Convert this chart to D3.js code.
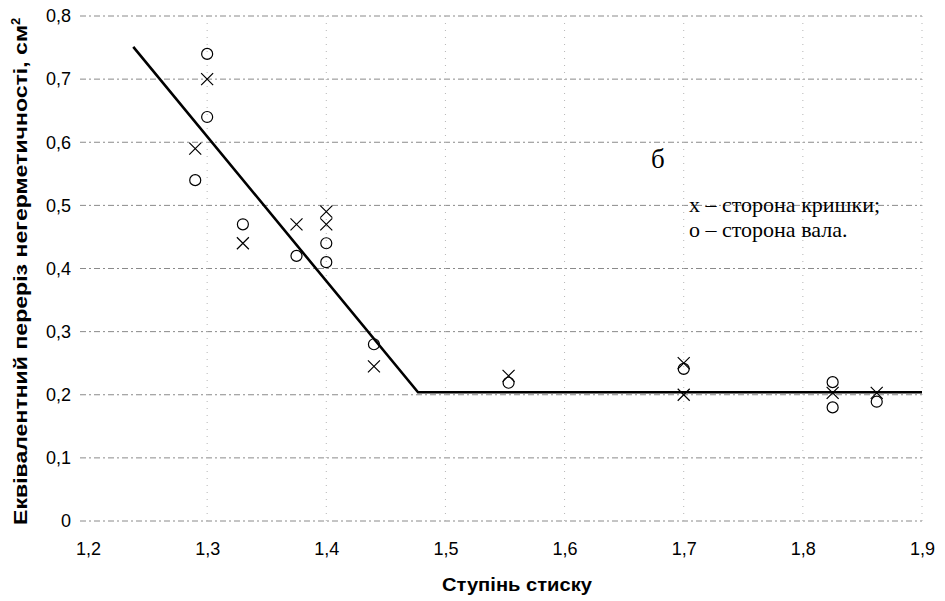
<!DOCTYPE html>
<html>
<head>
<meta charset="utf-8">
<script src="https://cdn.jsdelivr.net/npm/d3@7"></script>
<style>
  body { margin: 0; background: #fff; }
</style>
</head>
<body>
<div id="chart"></div>
<script>
(function(d3) {
  'use strict';

  // сторона кришки (x)
  var crossX = [1.29, 1.30, 1.33, 1.375, 1.40, 1.40, 1.44, 1.553, 1.70, 1.70, 1.825, 1.862];
  var crossY = [0.59, 0.70, 0.44, 0.47, 0.49, 0.47, 0.245, 0.23, 0.25, 0.20, 0.203, 0.203];
  // сторона вала (o)
  var circX = [1.30, 1.30, 1.29, 1.33, 1.375, 1.40, 1.40, 1.44, 1.553, 1.70, 1.825, 1.825, 1.862];
  var circY = [0.74, 0.64, 0.54, 0.47, 0.42, 0.44, 0.41, 0.28, 0.219, 0.241, 0.22, 0.18, 0.189];
  // approximation line
  var lineX = [1.238, 1.477, 1.9];
  var lineY = [0.751, 0.204, 0.204];

  var xTicks = [1.2, 1.3, 1.4, 1.5, 1.6, 1.7, 1.8, 1.9];
  var yTicks = [0, 0.1, 0.2, 0.3, 0.4, 0.5, 0.6, 0.7, 0.8];

  var width = 945;
  var height = 601;
  var sans = 'Arial, "Liberation Sans", sans-serif';

  var x = d3.scaleLinear().domain([1.2, 1.9]).range([88, 922]);
  var y = d3.scaleLinear().domain([0, 0.8]).range([521, 16]);
  var fmt = function(d) { return d3.format('.1~f')(d).replace('.', ','); };

  var svg = d3.select('#chart')
    .append('svg')
    .attr('width', width)
    .attr('height', height);

  // grid
  svg.append('g')
    .selectAll('line')
    .data(yTicks)
    .enter()
    .append('line')
    .attr('x1', 80).attr('x2', 922)
    .attr('y1', function(d) { return y(d); })
    .attr('y2', function(d) { return y(d); })
    .attr('stroke', '#8a8a8a')
    .attr('stroke-width', 1)
    .attr('stroke-dasharray', '6,3,2,3');

  svg.append('g')
    .selectAll('line')
    .data(xTicks.slice(1))
    .enter()
    .append('line')
    .attr('x1', function(d) { return x(d); })
    .attr('x2', function(d) { return x(d); })
    .attr('y1', y(0.8)).attr('y2', y(0))
    .attr('stroke', '#b5b5b5')
    .attr('stroke-width', 1)
    .attr('stroke-dasharray', '1,6');

  // axes (labels only)
  var xAxis = svg.append('g')
    .attr('transform', 'translate(0,' + 528 + ')')
    .call(d3.axisBottom(x).tickValues(xTicks).tickFormat(fmt).tickSize(0).tickPadding(14));
  xAxis.select('.domain').remove();

  var yAxis = svg.append('g')
    .attr('transform', 'translate(' + 71 + ',0)')
    .call(d3.axisLeft(y).tickValues(yTicks).tickFormat(fmt).tickSize(0).tickPadding(0));
  yAxis.select('.domain').remove();

  svg.selectAll('.tick text')
    .attr('font-family', sans)
    .style('font-family', sans)
    .style('font-size', '18px')
    .attr('fill', '#000');

  // line
  var pts = lineX.map(function(d, i) { return [d, lineY[i]]; });
  svg.append('path')
    .datum(pts)
    .attr('fill', 'none')
    .attr('stroke', '#000')
    .attr('stroke-width', 2.6)
    .attr('d', d3.line().x(function(d) { return x(d[0]); }).y(function(d) { return y(d[1]); }));

  // circles
  svg.append('g')
    .selectAll('circle')
    .data(circX.map(function(d, i) { return [d, circY[i]]; }))
    .enter()
    .append('circle')
    .attr('cx', function(d) { return x(d[0]); })
    .attr('cy', function(d) { return y(d[1]); })
    .attr('r', 5.5)
    .attr('fill', 'none')
    .attr('stroke', '#000')
    .attr('stroke-width', 1.2);

  // crosses
  var s = 6;
  svg.append('g')
    .selectAll('path')
    .data(crossX.map(function(d, i) { return [d, crossY[i]]; }))
    .enter()
    .append('path')
    .attr('d', function(d) {
      var cx = x(d[0]), cy = y(d[1]);
      return 'M' + (cx - s) + ',' + (cy - s) + 'L' + (cx + s) + ',' + (cy + s) +
        'M' + (cx - s) + ',' + (cy + s) + 'L' + (cx + s) + ',' + (cy - s);
    })
    .attr('stroke', '#000')
    .attr('stroke-width', 1.2)
    .attr('fill', 'none');

  // annotations
  var serif = '"Liberation Serif", "DejaVu Serif", serif';
  svg.append('text')
    .attr('x', 651).attr('y', 168)
    .attr('font-family', serif).attr('font-size', 27)
    .text('б');
  svg.append('text')
    .attr('x', 689).attr('y', 212)
    .attr('font-family', serif).attr('font-size', 22)
    .text('x – сторона кришки;');
  svg.append('text')
    .attr('x', 689).attr('y', 237)
    .attr('font-family', serif).attr('font-size', 22)
    .text('o – сторона вала.');

  // axis titles
  svg.append('text')
    .attr('x', 517).attr('y', 591)
    .attr('text-anchor', 'middle')
    .attr('font-family', sans).attr('font-size', 18).attr('font-weight', 'bold')
    .attr('textLength', 150).attr('lengthAdjust', 'spacingAndGlyphs')
    .text('Ступінь стиску');

  var yt = svg.append('text')
    .attr('transform', 'translate(27,' + 525 + ') rotate(-90)')
    .attr('font-family', sans).attr('font-size', 18).attr('font-weight', 'bold');
  yt.append('tspan')
    .attr('textLength', 500).attr('lengthAdjust', 'spacingAndGlyphs')
    .text('Еквівалентний переріз негерметичності, см');
  yt.append('tspan').attr('dy', -7).attr('font-size', 13).text('2');

})(window.d3);
</script>
</body>
</html>
